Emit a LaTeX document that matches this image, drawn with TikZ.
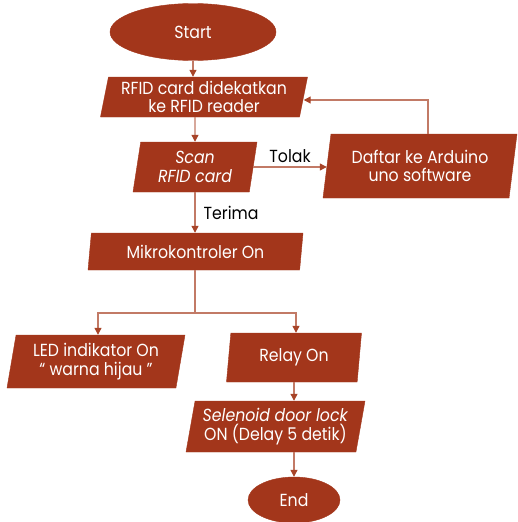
\documentclass[tikz,border=0pt]{standalone}
\usepackage{fontspec}
\setmainfont[FakeStretch=0.9]{Poppins}
\usetikzlibrary{shapes.geometric,arrows.meta}
\definecolor{boxred}{HTML}{A3361B}
\definecolor{linkred}{HTML}{C27A66}
\definecolor{tipred}{HTML}{A84428}

\begin{document}
\begin{tikzpicture}[x=1pt,y=-1pt,
  every node/.style={font=\fontsize{17.5}{18.5}\selectfont},
  para/.style={trapezium, trapezium left angle=76, trapezium right angle=104,
    trapezium stretches body, fill=boxred, draw=boxred, text=white,
    align=center, inner sep=0pt},
  term/.style={ellipse, fill=boxred, draw=boxred, text=white, inner sep=0pt},
  link/.style={draw=linkred, line width=1.2pt,
    -{Triangle[width=7pt,length=7pt,color=tipred]}},
  plain/.style={draw=linkred, line width=1.2pt},
  lbl/.style={text=black, inner sep=0pt}]
\useasboundingbox (0,0) rectangle (518,522);

% terminals and process boxes
\node[term, minimum width=166pt, minimum height=57pt] (start) at (193,32) {Start};
\node[para, minimum width=207pt, minimum height=40pt] (card) at (204,97)
  {RFID card didekatkan\\ke RFID reader};
\node[para, minimum width=124pt, minimum height=50pt,
  font=\fontsize{17.5}{18.5}\selectfont\itshape] (scan) at (195,167) {Scan\\RFID card};
\node[para, minimum width=194pt, minimum height=64pt] (daftar) at (420,166)
  {Daftar ke Arduino\\uno software};
\node[para, minimum width=215pt, minimum height=37pt] (mikro) at (195.5,251.5)
  {Mikrokontroler On};
\node[para, minimum width=178pt, minimum height=53pt] (led) at (96,361.5)
  {LED indikator On\\`` warna hijau ''};
\node[para, minimum width=135pt, minimum height=49pt] (relay) at (294,357.5) {Relay On};
\node[para, minimum width=179pt, minimum height=51pt] (sel) at (275.5,426.5)
  {\textit{Selenoid door lock}\\ON (Delay 5 detik)};
\node[term, minimum width=92pt, minimum height=46pt] (end) at (294,500) {End};

% helper points for bends
\coordinate (ret) at (428,100);
\coordinate (split) at (195,313);
\coordinate (ledin) at (98,313);
\coordinate (relayin) at (296,313);

% connectors
\draw[link] (start) -- (start |- card.north);
\draw[link] (scan |- card.south) -- (scan.north);
\draw[link] (scan.east) -- (scan.east -| daftar.west)
  node[lbl, midway, above=4pt] {Tolak};
\draw[link] (daftar.north -| ret) -- (ret) -- (ret -| card.east);
\draw[link] (scan.south) -- (scan.south |- mikro.north)
  node[lbl, midway, right=8pt] {Terima};
\draw[plain] (mikro.south -| split) -- (split);
\draw[link] (split) -- (ledin) -- (ledin |- led.north);
\draw[link] (split) -- (relayin) -- (relayin |- relay.north);
\draw[link] (relay.south) -- (relay.south |- sel.north);
\draw[link] (end |- sel.south) -- (end);
\end{tikzpicture}
\end{document}
